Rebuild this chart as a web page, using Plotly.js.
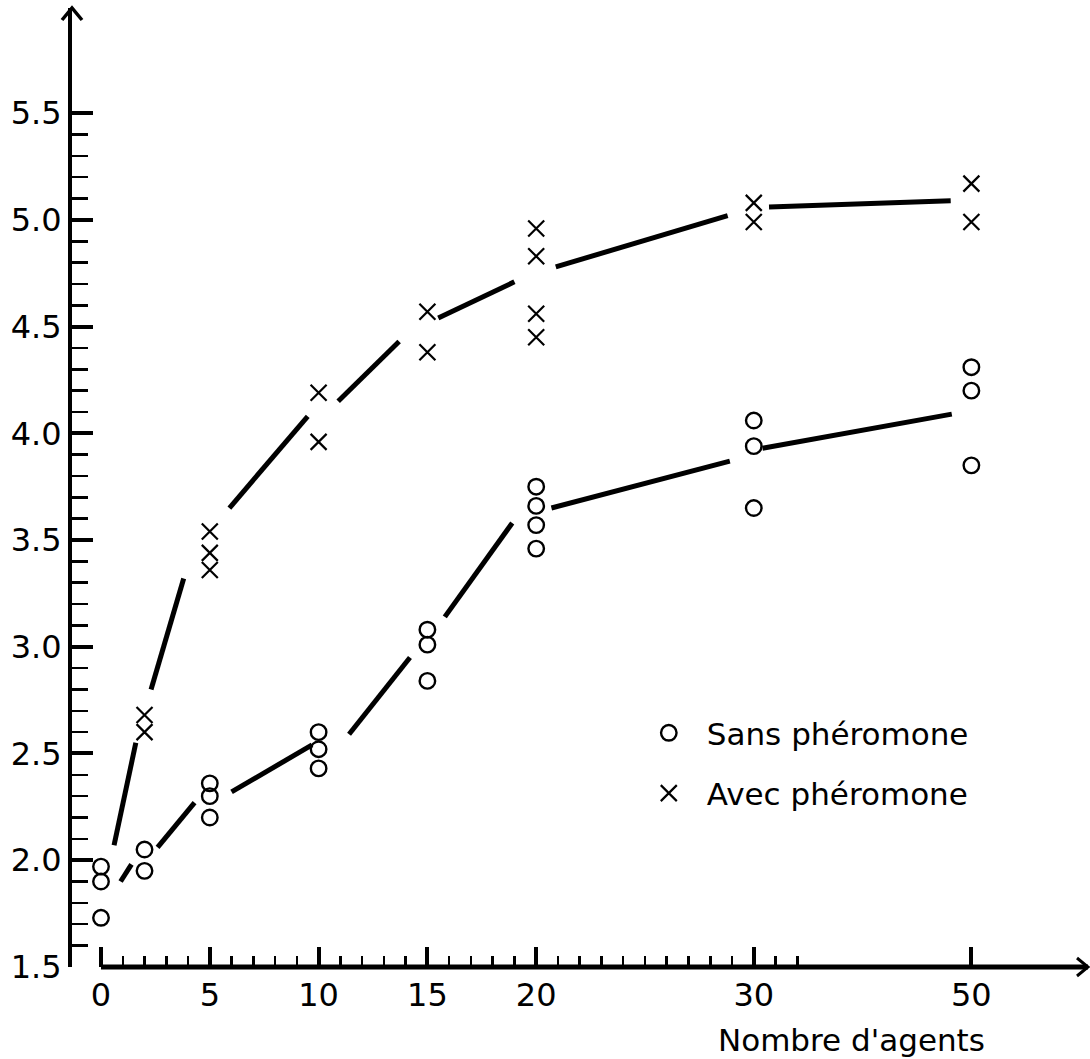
<!DOCTYPE html>
<html><head><meta charset="utf-8">
<script src="https://cdn.plot.ly/plotly-3.0.1.min.js"></script>
<style>html,body{margin:0;padding:0;background:#fff}#chart{width:1090px;height:1059px}</style>
</head><body><div id="chart"></div>
<script>
// ---- data ----
const sansAgents = [0,0,0, 2,2, 5,5,5, 10,10,10, 15,15,15, 20,20,20,20, 30,30,30, 50,50,50];
const sansValues = [1.97,1.90,1.73, 2.05,1.95, 2.36,2.30,2.20, 2.60,2.52,2.43, 3.08,3.01,2.84, 3.75,3.66,3.57,3.46, 4.06,3.94,3.65, 4.31,4.20,3.85];
const avecAgents = [2,2, 5,5,5, 10,10, 15,15, 20,20,20,20, 30,30, 50,50];
const avecValues = [2.68,2.60, 3.54,3.44,3.36, 4.19,3.96, 4.57,4.38, 4.96,4.83,4.56,4.45, 5.08,4.99, 5.17,4.99];
// hand-drawn trend lines (segments separated by null)
const sansCurveAgents = [0.9,1.4,null, 2.6,4.3,null, 6.0,9.7,null, 11.4,14.2,null, 15.8,18.9,null, 20.7,28.9,null, 30.8,48.2];
const sansCurveValues = [1.90,1.98,null, 2.06,2.27,null, 2.32,2.54,null, 2.59,2.95,null, 3.14,3.58,null, 3.65,3.87,null, 3.93,4.09];
const avecCurveAgents = [0.6,1.6,null, 2.3,3.8,null, 5.9,9.5,null, 10.9,13.7,null, 15.5,19.0,null, 20.9,28.8,null, 31.4,48.1];
const avecCurveValues = [2.07,2.55,null, 2.80,3.32,null, 3.65,4.08,null, 4.15,4.43,null, 4.54,4.71,null, 4.78,5.02,null, 5.06,5.09];
const xTickAgents = [0,5,10,15,20,30,50];
const xTickLabels = ['0','5','10','15','20','30','50'];
const yTickValues = [1.5,2.0,2.5,3.0,3.5,4.0,4.5,5.0,5.5];
const yTickLabels = ['1.5','2.0','2.5','3.0','3.5','4.0','4.5','5.0','5.5'];
const seriesNames = ['Sans phéromone','Avec phéromone'];
const xAxisLabel = "Nombre d'agents";

// ---- broken x scale: beyond 30 agents the axis is compressed ----
const BREAK = 30, COMPRESS = 0.5;
const pos = a => (a === null ? null : (a <= BREAK ? a : BREAK + (a - BREAK) * COMPRESS));

const X_RANGE = [-1.333, 45.36];
const Y_RANGE = [1.4995, 5.993];

const xMinor = [];
for (let k = 1; k <= 32; k++) { if ((k % 5 !== 0 || k === 25) && k !== 30) xMinor.push(k); }
const yMinor = [];
for (let k = 16; k <= 54; k++) { if (k % 5 !== 0) yMinor.push(k / 10); }

const black = '#000';
const FONT = 'DejaVu Sans';
const traces = [
  {x: sansCurveAgents.map(pos), y: sansCurveValues, mode:'lines', line:{color:black, width:5}, connectgaps:false, showlegend:false, hoverinfo:'skip'},
  {x: avecCurveAgents.map(pos), y: avecCurveValues, mode:'lines', line:{color:black, width:5}, connectgaps:false, showlegend:false, hoverinfo:'skip'},
  {x: sansAgents.map(pos), y: sansValues, mode:'markers', name: seriesNames[0], legendgroup:'a',
   marker:{symbol:'circle-open', size:15.5, color:black, line:{width:2.4, color:black}}},
  {x: avecAgents.map(pos), y: avecValues, mode:'markers', name: seriesNames[1], legendgroup:'b',
   marker:{symbol:'x-thin-open', size:16, color:black, line:{width:2.2, color:black}}}
];

const x0paper = (pos(0) - X_RANGE[0]) / (X_RANGE[1] - X_RANGE[0]);

const layout = {
  width:1090, height:1059,
  margin:{l:72, r:2, t:8, b:92, pad:0},
  paper_bgcolor:'#fff', plot_bgcolor:'#fff',
  font:{family:FONT, size:31, color:black},
  showlegend:true,
  legend:{x:0.550, y:0.272, xanchor:'left', yanchor:'top', bgcolor:'rgba(0,0,0,0)', borderwidth:0,
          font:{family:FONT, size:31, color:black}, traceorder:'grouped', tracegroupgap:17, itemwidth:66},
  xaxis:{range:X_RANGE, showline:false, zeroline:false, showgrid:false, fixedrange:true,
         tickmode:'array', tickvals:xTickAgents.map(pos), ticktext:xTickLabels,
         ticks:'inside', ticklen:20, tickwidth:4, tickcolor:black, ticklabelstandoff:6,
         tickfont:{family:FONT, size:32, color:black},
         minor:{tickmode:'array', tickvals:xMinor, ticks:'inside', ticklen:11, tickwidth:2.5, tickcolor:black, showgrid:false}},
  yaxis:{range:Y_RANGE, showline:true, linewidth:4, linecolor:black, zeroline:false, showgrid:false, fixedrange:true,
         tickmode:'array', tickvals:yTickValues, ticktext:yTickLabels,
         ticks:'inside', ticklen:21, tickwidth:4, tickcolor:black, ticklabelstandoff:0,
         tickfont:{family:FONT, size:32, color:black},
         minor:{tickmode:'array', tickvals:yMinor, ticks:'inside', ticklen:16, tickwidth:2.5, tickcolor:black, showgrid:false}},
  shapes:[
    {type:'line', xref:'paper', yref:'paper', x0:x0paper, x1:1, y0:0, y1:0, line:{color:black, width:5}, layer:'above'},
    {type:'path', xref:'paper', yref:'paper', xsizemode:'pixel', ysizemode:'pixel', xanchor:0, yanchor:1,
     path:'M -10,-12 L 0,0 L 10,-12', line:{color:black, width:3.5}, layer:'above'},
    {type:'path', xref:'paper', yref:'paper', xsizemode:'pixel', ysizemode:'pixel', xanchor:1, yanchor:0,
     path:'M -11,9 L 0,0 L -11,-9', line:{color:black, width:3}, layer:'above'}
  ],
  annotations:[
    {text:xAxisLabel, xref:'paper', yref:'paper', x:0.767, y:-0.076, xanchor:'center', yanchor:'middle', showarrow:false,
     font:{family:FONT, size:31, color:black}}
  ]
};

Plotly.newPlot('chart', traces, layout, {staticPlot:true, displayModeBar:false});
</script>
</body></html>
